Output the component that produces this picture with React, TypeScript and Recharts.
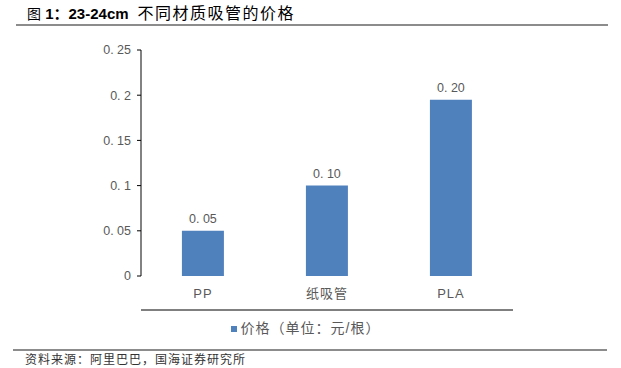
import { BarChart, Bar, XAxis, YAxis, LabelList, Legend } from 'recharts'

const categories = ['PP', '纸吸管', 'PLA']
const prices = [0.05, 0.1, 0.195]
const yTicks = [0, 0.05, 0.1, 0.15, 0.2, 0.25]
const boundaryTicks = [1, 2]
const seriesName = '价格（单位：元/根）'

const data = categories.map((name, i) => ({ name, price: prices[i], pos: i + 0.5 }))

const grey = '#595959'
const blue = '#4f81bd'
const font = '"Liberation Sans", "Noto Sans CJK SC", sans-serif'

const fmtTick = (v: number) => (v === 0 ? '0' : String(v).replace('.', '. '))

export default function App() {
  return (
    <div
      style={{
        position: 'absolute',
        left: 0,
        top: 0,
        width: 621,
        height: 368,
        background: '#fff',
        overflow: 'hidden',
        fontFamily: font,
      }}
    >
      <div style={{ position: 'absolute', left: 27, top: 4, color: '#000', whiteSpace: 'nowrap', lineHeight: '20px' }}>
        <span style={{ fontSize: 14 }}>图</span>
        <b style={{ fontSize: 15 }}> 1：</b>
        <b style={{ fontSize: 15 }}>23-24cm</b>
        <span style={{ fontSize: 16, letterSpacing: 1.5, marginLeft: 9 }}>不同材质吸管的价格</span>
      </div>
      <div style={{ position: 'absolute', left: 16, top: 24, width: 592, height: 2, background: '#8c8c8c' }} />

      <div style={{ position: 'absolute', left: 0, top: 0 }}>
        <BarChart
          width={621}
          height={345}
          data={data}
          margin={{ top: 50, right: 108, left: 81, bottom: 0 }}
          barCategoryGap="33%"
        >
          <YAxis
            domain={[0, 0.25]}
            ticks={yTicks}
            width={60}
            tickFormatter={fmtTick}
            tick={{ fill: grey, fontSize: 12.5 }}
            axisLine={{ stroke: grey, strokeWidth: 1.5 }}
            tickLine={{ stroke: '#000' }}
            tickSize={4}
            tickMargin={6}
          />
          <XAxis
            xAxisId="bounds"
            type="number"
            dataKey="pos"
            domain={[0, 3]}
            ticks={boundaryTicks}
            height={1}
            axisLine={{ stroke: '#000' }}
            tick={false}
            tickLine={{ stroke: '#000' }}
            tickSize={5}
          />
          <XAxis
            dataKey="name"
            height={34}
            tick={{ fill: grey, fontSize: 13, letterSpacing: 1 }}
            axisLine={false}
            tickLine={false}
            tickMargin={7}
          />
          <Legend
            verticalAlign="bottom"
            iconType="square"
            iconSize={6}
            wrapperStyle={{
              left: 0,
              width: 621,
              fontSize: 14,
              letterSpacing: 1,
              height: 34,
              paddingTop: 6,
              boxSizing: 'border-box',
            }}
            formatter={(v) => <span style={{ color: grey }}>{v}</span>}
          />
          <Bar dataKey="price" name={seriesName} fill={blue} isAnimationActive={false}>
            <LabelList
              dataKey="price"
              position="top"
              offset={8}
              fill={grey}
              fontSize={12.5}
              formatter={(v: number) => (Math.round(v * 100) / 100).toFixed(2).replace('.', '. ')}
            />
          </Bar>
        </BarChart>
      </div>

      <div style={{ position: 'absolute', left: 13, top: 349, width: 594, height: 2, background: '#8c8c8c' }} />
      <div
        style={{
          position: 'absolute',
          left: 25,
          top: 353,
          fontSize: 12,
          lineHeight: '14px',
          color: '#333',
          whiteSpace: 'nowrap',
          letterSpacing: 1,
        }}
      >
        资料来源：阿里巴巴，国海证券研究所
      </div>
    </div>
  )
}
